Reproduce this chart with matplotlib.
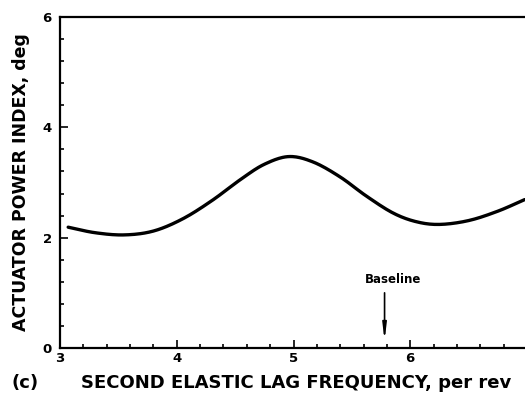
import matplotlib.pyplot as plt
import matplotlib
from matplotlib.ticker import MultipleLocator
import numpy as np

matplotlib.rc("font", family="DejaVu Sans", weight="bold", size=9.5)

# curve
freq = [3.07, 3.30, 3.55, 3.80, 4.05, 4.30, 4.55, 4.75, 4.96, 5.17,
        5.40, 5.62, 5.85, 6.05, 6.25, 6.50, 6.75, 6.98]
power = [2.19, 2.09, 2.05, 2.12, 2.34, 2.67, 3.06, 3.33, 3.47, 3.37,
         3.10, 2.76, 2.45, 2.29, 2.24, 2.31, 2.48, 2.69]

baseline_freq = 5.78

x_ticks = [3, 4, 5, 6]
y_ticks = [0, 2, 4, 6]


def catmull_rom(x, y, n=20):
    # smooth line through the read points
    x = np.asarray(x)
    y = np.asarray(y)
    px = np.concatenate(([2 * x[0] - x[1]], x, [2 * x[-1] - x[-2]]))
    py = np.concatenate(([2 * y[0] - y[1]], y, [2 * y[-1] - y[-2]]))
    t = np.linspace(0, 1, n, endpoint=False)[:, None]
    out_x, out_y = [], []
    for i in range(1, len(px) - 2):
        for p, out in ((px, out_x), (py, out_y)):
            p0, p1, p2, p3 = p[i - 1], p[i], p[i + 1], p[i + 2]
            seg = 0.5 * ((2 * p1) + (-p0 + p2) * t
                         + (2 * p0 - 5 * p1 + 4 * p2 - p3) * t ** 2
                         + (-p0 + 3 * p1 - 3 * p2 + p3) * t ** 3)
            out.extend(seg.ravel())
    out_x.append(x[-1])
    out_y.append(y[-1])
    return np.array(out_x), np.array(out_y)


xs, ys = catmull_rom(freq, power)

fig = plt.figure(figsize=(5.25, 3.99), dpi=100)
ax = fig.add_axes([60 / 525, 51 / 399, 467 / 525, 331 / 399])

ax.plot(xs, ys, color="black", linewidth=2.4, solid_capstyle="round")

ax.set_xlim(3, 7)
ax.set_ylim(0, 6)
ax.set_xticks(x_ticks)
ax.set_yticks(y_ticks)
ax.xaxis.set_minor_locator(MultipleLocator(0.2))
ax.yaxis.set_minor_locator(MultipleLocator(0.4))
ax.tick_params(which="both", direction="in", width=1.2)
ax.tick_params(which="major", length=6, pad=3)
ax.tick_params(which="minor", length=3)
ax.tick_params(axis="y", pad=6)
for s in ax.spines.values():
    s.set_linewidth(1.6)
ax.spines["right"].set_visible(False)

ax.annotate("", xy=(baseline_freq, 0.08), xytext=(baseline_freq, 1.05),
            arrowprops=dict(arrowstyle="-|>,head_length=1.0,head_width=0.12",
                            color="black", lw=1.2))
ax.text(baseline_freq + 0.07, 1.24, "Baseline", ha="center", va="center",
        fontsize=8.5, fontweight="bold")

ax.set_ylabel("ACTUATOR POWER INDEX, deg", fontsize=12.5, fontweight="bold",
              labelpad=9)
fig.text(296 / 525, 1 - 383 / 399, "SECOND ELASTIC LAG FREQUENCY, per rev",
         ha="center", va="center", fontsize=13, fontweight="bold")
fig.text(25 / 525, 1 - 383 / 399, "(c)", ha="center", va="center",
         fontsize=13, fontweight="bold")

plt.savefig("out.png", dpi=100)
plt.close("all")
